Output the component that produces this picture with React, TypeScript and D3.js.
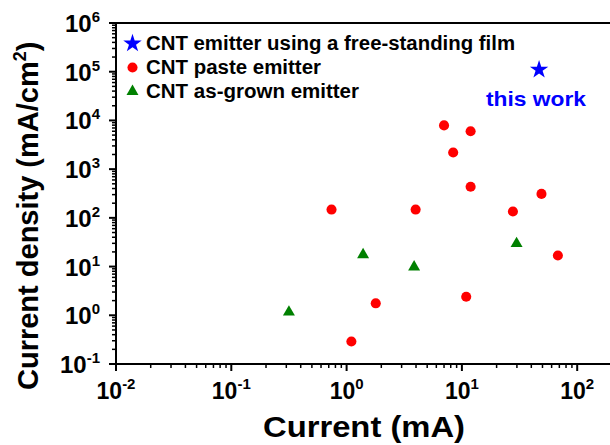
import React from "react";
import * as d3 from "d3";

const W = 610, H = 445;
const starPts = [{ x: 46.7, y: 1.1e5 }];
const pastePts = [
  { x: 7.0, y: 7.9e3 }, { x: 11.9, y: 6.0e3 }, { x: 8.4, y: 2.2e3 },
  { x: 11.9, y: 435 }, { x: 49, y: 310 }, { x: 0.74, y: 148 },
  { x: 3.97, y: 148 }, { x: 27.7, y: 135 }, { x: 68, y: 16.9 },
  { x: 1.79, y: 1.76 }, { x: 10.9, y: 2.4 }, { x: 1.1, y: 0.29 },
];
const grownPts = [
  { x: 0.316, y: 1.16 }, { x: 1.39, y: 17.5 }, { x: 3.85, y: 9.8 }, { x: 29.8, y: 29.7 },
];
const xTickExp = [-2, -1, 0, 1, 2];
const yTickExp = [-1, 0, 1, 2, 3, 4, 5, 6];
const legendItems = [
  { label: "CNT emitter using a free-standing film", kind: "star", color: "#0000ff", len: 369 },
  { label: "CNT paste emitter", kind: "circle", color: "#ff0000", len: 175 },
  { label: "CNT as-grown emitter", kind: "triangle", color: "#008000", len: 213 },
];

const L = 116, R = 612, T = 23, B = 364;
const FONT = "'Liberation Sans', Arial, sans-serif";

export default function App() {
  const x = d3.scaleLog().domain([1e-2, Math.pow(10, (R - L) / 115.3 - 2)]).range([L, R]);
  const y = d3.scaleLog().domain([1e-1, 1e6]).range([B, T]);
  const star = d3.symbol().type(d3.symbolStar).size(105)() as string;
  const circ = d3.symbol().type(d3.symbolCircle).size(80)() as string;
  const tri = d3.symbol().type(d3.symbolTriangle).size(62)() as string;
  const sym = (k: string) => (k === "star" ? star : k === "circle" ? circ : tri);

  const xMinor: number[] = [];
  for (let e = -2; e <= 2; e++) for (let m = 2; m <= 9; m++) {
    const v = m * Math.pow(10, e);
    if (x(v) <= R) xMinor.push(v);
  }
  const yMinor: number[] = [];
  for (let e = -1; e < 6; e++) for (let m = 2; m <= 9; m++) yMinor.push(m * Math.pow(10, e));

  return (
    <svg width={W} height={H} style={{ position: "absolute", left: 0, top: 0, background: "#fff" }} fontFamily={FONT}>
      <rect x={0} y={0} width={W} height={H} fill="#fff" />
      {/* frame */}
      <line x1={L} x2={R} y1={T} y2={T} stroke="#000" strokeWidth={2} />
      <line x1={L} x2={L} y1={T - 1} y2={B + 1} stroke="#000" strokeWidth={2} />
      <line x1={L - 1} x2={R} y1={B} y2={B} stroke="#000" strokeWidth={2} />
      {/* x ticks */}
      {xTickExp.map((e) => (
        <line key={"xM" + e} x1={x(Math.pow(10, e))} x2={x(Math.pow(10, e))} y1={B} y2={B + 7} stroke="#000" strokeWidth={2} />
      ))}
      {xMinor.map((v, i) => (
        <line key={"xm" + i} x1={x(v)} x2={x(v)} y1={B} y2={B + 4} stroke="#000" strokeWidth={1.5} />
      ))}
      {yTickExp.map((e) => (
        <line key={"yM" + e} x1={L - 7} x2={L} y1={y(Math.pow(10, e))} y2={y(Math.pow(10, e))} stroke="#000" strokeWidth={2} />
      ))}
      {yMinor.map((v, i) => (
        <line key={"ym" + i} x1={L - 4} x2={L} y1={y(v)} y2={y(v)} stroke="#000" strokeWidth={1.5} />
      ))}
      {/* tick labels */}
      {xTickExp.map((e) => (
        <text key={"xl" + e} x={x(Math.pow(10, e))} y={399} textAnchor="middle" fontWeight="bold" fontSize={23} fill="#000">
          10<tspan fontSize={15} dy={-10}>{e}</tspan>
        </text>
      ))}
      {yTickExp.map((e) => (
        <text key={"yl" + e} x={100} y={y(Math.pow(10, e)) + 9} textAnchor="end" fontWeight="bold" fontSize={24} fill="#000">
          10<tspan fontSize={15} dy={-10}>{e}</tspan>
        </text>
      ))}
      {/* axis titles */}
      <text x={263} y={437} fontWeight="bold" fontSize={29} fill="#000" textLength={202} lengthAdjust="spacingAndGlyphs">Current (mA)</text>
      <text transform={`translate(38,390) rotate(-90)`} fontWeight="bold" fontSize={29} fill="#000">
        Current density (mA/cm<tspan fontSize={18} dy={-12}>2</tspan><tspan dy={12}>)</tspan>
      </text>
      {/* legend */}
      {legendItems.map((it, i) => (
        <g key={it.label} transform={`translate(0,${43.5 + i * 24})`}>
          <path d={sym(it.kind)} transform={`translate(132.5,0)`} fill={it.color} />
          <text x={146} y={6.5} fontWeight="bold" fontSize={20} fill="#000" textLength={it.len} lengthAdjust="spacingAndGlyphs">{it.label}</text>
        </g>
      ))}
      <text x={486} y={106} fontWeight="bold" fontSize={21} fill="#0000ff" textLength={100} lengthAdjust="spacingAndGlyphs">this work</text>
      {/* data */}
      {starPts.map((p, i) => (
        <path key={"s" + i} d={star} transform={`translate(${x(p.x)},${y(p.y)})`} fill="#0000ff" />
      ))}
      {pastePts.map((p, i) => (
        <path key={"p" + i} d={circ} transform={`translate(${x(p.x)},${y(p.y)})`} fill="#ff0000" />
      ))}
      {grownPts.map((p, i) => (
        <path key={"g" + i} d={tri} transform={`translate(${x(p.x)},${y(p.y)})`} fill="#008000" />
      ))}
    </svg>
  );
}
